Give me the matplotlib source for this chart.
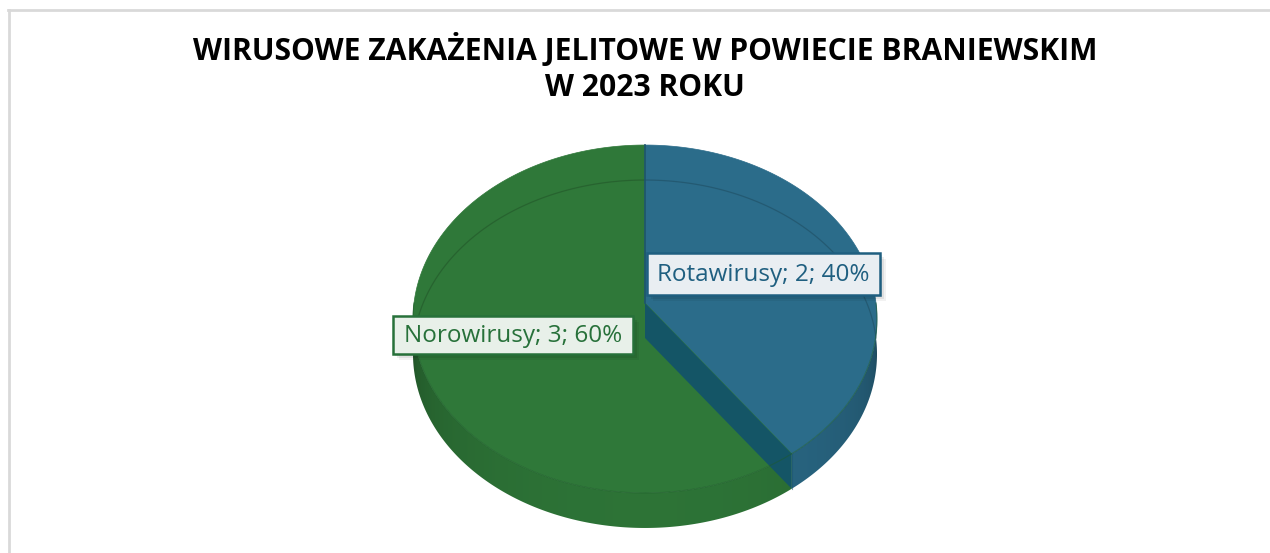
import numpy as np
import matplotlib
matplotlib.use("Agg")
import matplotlib.pyplot as plt
from matplotlib.patches import Polygon, Rectangle
from matplotlib.lines import Line2D

# chart data
categories = ["Rotawirusy", "Norowirusy"]
values = [2, 3]
top_colors = ["#2b6c8a", "#2f7839"]
text_colors = ["#1f5f80", "#27713a"]
box_faces = ["#e9eef2", "#e8f0e9"]
title_lines = ["WIRUSOWE ZAKAŻENIA JELITOWE W POWIECIE BRANIEWSKIM", "W 2023 ROKU"]

W, H = 1270, 553
# pie geometry in pixels (perspective ellipse)
CX, CY = 645, 303
RX, RY = 231, 172.5
K = 0.092
DEPTH = 35


def proj(t, r=1.0, dz=0.0):
    u = r * np.sin(t)
    v = r * np.cos(t)
    w = 1 + K * v
    return CX + RX * u / w, CY - RY * v / w + dz


def shade(color, f):
    rgb = np.array(matplotlib.colors.to_rgb(color))
    return tuple(np.clip(rgb * f, 0, 1))


fig = plt.figure(figsize=(W / 100, H / 100), dpi=100)
ax = fig.add_axes([0, 0, 1, 1])
ax.set_xlim(0, W)
ax.set_ylim(H, 0)
ax.axis("off")

# frame of the chart area
fig.add_artist(Line2D([8 / W, 1], [1 - 9.5 / H, 1 - 9.5 / H], color="#d9d9d9", lw=2,
                      transform=fig.transFigure))
fig.add_artist(Line2D([8.5 / W, 8.5 / W], [0, 1 - 9.5 / H], color="#d9d9d9", lw=2,
                      transform=fig.transFigure))

total = sum(values)
bounds = np.concatenate([[0], np.cumsum(values) / total]) * 2 * np.pi

# side faces (front half only), shaded darker towards the edges
for i in range(len(values)):
    a, b = bounds[i], bounds[i + 1]
    a2, b2 = max(a, np.pi / 2), min(b, 3 * np.pi / 2)
    if a2 >= b2:
        continue
    ts = np.linspace(a2, b2, 200)
    xs, ys = proj(ts)
    pts = list(zip(xs, ys)) + list(zip(xs[::-1], ys[::-1] + DEPTH))
    poly = Polygon(pts, closed=True, facecolor="none", edgecolor="none", zorder=1)
    ax.add_patch(poly)
    gx = np.linspace(CX - RX - 5, CX + RX + 5, 600)
    dx = np.clip((gx - CX) / (RX + 1), -1, 1)
    f = 0.62 + 0.34 * np.sqrt(np.sqrt(1 - dx ** 2))
    base = np.array(matplotlib.colors.to_rgb(top_colors[i]))
    img = np.clip(base[None, None, :] * f[None, :, None], 0, 1)
    img = np.repeat(img, 2, axis=0)
    im = ax.imshow(img, extent=(gx[0], gx[-1], CY + RY * 1.3 + DEPTH, CY - 20),
                   aspect="auto", interpolation="bilinear", zorder=1)
    im.set_clip_path(poly)

# top faces
for i in range(len(values)):
    a, b = bounds[i], bounds[i + 1]
    ts = np.linspace(a, b, 200)
    xs, ys = proj(ts)
    pts = [(CX, CY)] + list(zip(xs, ys))
    ax.add_patch(Polygon(pts, closed=True, facecolor=top_colors[i],
                         edgecolor=top_colors[i], lw=0.5, zorder=2))

# faint back rim of the base seen through the top
for i in range(len(values)):
    a, b = bounds[i], bounds[i + 1]
    for lo, hi in [(a, min(b, np.pi / 2)), (max(a, 3 * np.pi / 2), b)]:
        if lo < hi:
            ts = np.linspace(lo, hi, 100)
            xs, ys = proj(ts, dz=DEPTH)
            ax.plot(xs, ys, color=shade(top_colors[i], 0.72), lw=0.9, alpha=0.6, zorder=3)

# cut face of the first slice, visible through the neighbour
tb = bounds[1]
px, py = proj(tb)
band = [(CX, CY), (px, py), (px, py + DEPTH), (CX, CY + DEPTH)]
ax.add_patch(Polygon(band, closed=True, facecolor="#135469", edgecolor="none",
                     alpha=0.95, zorder=4))

# front rim of the top face
ts = np.linspace(np.pi / 2, 3 * np.pi / 2, 200)
xs, ys = proj(ts)
ax.plot(xs, ys, color="#1d5a2a", lw=0.8, alpha=0.5, zorder=5)
x0, y0 = proj(0.0)
ax.plot([x0, CX], [y0, CY], color="#1d5470", lw=1.2, zorder=5)
ax.plot([px, px], [py, py + DEPTH], color="#1d5470", lw=0.8, alpha=0.5, zorder=5)

# data labels
label_boxes = [(647, 253, 233, 42), (393, 316, 240, 38)]
for i in range(len(values)):
    x, y, w, h = label_boxes[i]
    for k, al in enumerate([0.10, 0.07, 0.05]):
        d = 2 + 2 * k
        ax.add_patch(Rectangle((x + d, y + d), w, h, facecolor="black", alpha=al,
                               edgecolor="none", zorder=6))
    ax.add_patch(Rectangle((x, y), w, h, facecolor=box_faces[i], edgecolor=text_colors[i],
                           lw=1.8, zorder=7))
    pct = round(100 * values[i] / total)
    ax.text(x + w / 2, y + h / 2 + 1, f"{categories[i]}; {values[i]}; {pct}%",
            ha="center", va="center", fontsize=17.5, family="Open Sans",
            color=text_colors[i], zorder=8)

# title
t1 = ax.text(645, 50, title_lines[0], ha="center", va="center", fontsize=20,
             fontweight="bold", family="Open Sans", color="black")
t2 = ax.text(645, 88, title_lines[1], ha="center", va="center", fontsize=20,
             fontweight="bold", family="Open Sans", color="black")
fig.canvas.draw()
wpx = t1.get_window_extent().width
scale = 905 / wpx
t1.set_fontsize(20 * scale)
t2.set_fontsize(20 * scale)

fig.savefig("out.png", dpi=100, facecolor="white")
